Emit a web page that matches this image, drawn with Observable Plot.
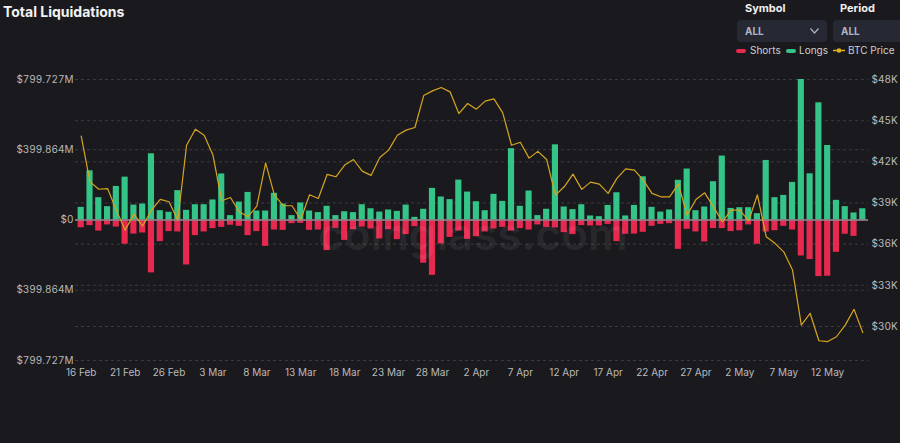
<!DOCTYPE html>
<html><head><meta charset="utf-8">
<script src="https://cdn.jsdelivr.net/npm/d3@7"></script>
<script src="https://cdn.jsdelivr.net/npm/@observablehq/plot@0.6"></script>
<style>
html,body{margin:0;padding:0}
body{background:#1a1a1e;width:900px;height:443px;overflow:hidden;font-family:Inter,"Open Sans",sans-serif;position:relative}
#chart{position:absolute;left:0;top:0}
.title{position:absolute;left:3px;top:3px;font-size:14px;font-weight:700;color:#f2f2f2}
.lbl{position:absolute;top:1px;font-size:11px;font-weight:700;color:#f0f0f0}
.box{position:absolute;top:20px;height:22px;background:#262934;border-radius:4px;color:#aeb3c4;font-size:10px;font-weight:700;line-height:22px;padding-left:8px;box-sizing:border-box}
.leg{position:absolute;top:44px;font-size:10px;color:#cfcfcf;line-height:12px}
.sw{position:absolute;top:49px;width:10px;height:3.5px;border-radius:2px}
.wm{position:absolute;left:318px;top:212px;font-size:44px;line-height:44px;font-weight:600;color:rgba(255,255,255,0.075);pointer-events:none;white-space:nowrap}
</style></head><body>
<div id="chart"></div>
<div class="title">Total Liquidations</div>
<div class="lbl" style="left:745px">Symbol</div>
<div class="box" style="left:737px;width:90px">ALL
  <svg style="position:absolute;right:8px;top:8px" width="9" height="6"><polyline points="0.5,0.5 4.5,5 8.5,0.5" fill="none" stroke="#aeb3c4" stroke-width="1.2"/></svg>
</div>
<div class="lbl" style="left:840px">Period</div>
<div class="box" style="left:833px;width:80px">ALL</div>
<div class="sw" style="left:736px;background:#e8294f"></div>
<div class="leg" style="left:750px">Shorts</div>
<div class="sw" style="left:786px;background:#34c487"></div>
<div class="leg" style="left:799px">Longs</div>
<svg style="position:absolute;left:833px;top:46px" width="12" height="9"><line x1="0" y1="4.5" x2="12" y2="4.5" stroke="#e0b020" stroke-width="1.5"/><circle cx="6" cy="4.5" r="2.3" fill="#e0b020"/></svg>
<div class="leg" style="left:848px">BTC Price</div>
<div class="wm">coinglass.com</div>
<script>
// Categories: one bar per day, 16 Feb 2022 – 16 May 2022
const dates = d3.utcDay.range(new Date(Date.UTC(2022,1,16)), new Date(Date.UTC(2022,4,17)));

// Longs liquidated ($M)
const longs = [72,280,127,76,191,244,85,91,377,53,
  44,167,55,87,87,114,262,25,102,157,
  51,51,152,91,25,97,51,42,78,25,
  47,42,87,64,45,57,49,85,15,61,
  180,131,116,227,159,104,53,146,106,406,
  78,165,25,61,428,74,59,87,23,19,
  83,155,23,83,246,72,45,57,226,290,
  53,74,218,364,66,70,70,36,339,127,
  140,214,799.727,263,667,424,112,76,40,64];

// Shorts liquidated ($M)
const shorts = [44,32,63,28,40,138,80,74,301,123,
  66,68,256,89,68,49,42,30,36,89,
  66,150,57,59,21,19,59,57,174,47,
  116,55,40,51,108,55,112,83,38,246,
  315,136,99,63,110,95,68,51,42,63,
  49,57,28,42,45,72,83,32,34,34,
  25,123,81,80,70,36,25,21,167,53,
  68,125,49,49,66,61,28,138,68,61,
  36,57,205,225,322,320,184,81,93,5];

// BTC price ($K)
const prices = [43.87,40.54,40.0,40.05,38.48,37.02,38.19,37.32,38.48,39.26,
  39.09,37.75,43.21,44.38,43.94,42.49,39.16,39.4,38.36,38.0,
  38.77,41.93,39.57,38.8,38.8,37.8,39.6,39.33,41.08,40.91,
  41.76,42.17,41.32,41.01,42.32,42.85,43.94,44.31,44.5,46.83,
  47.17,47.42,47.1,45.52,46.25,45.84,46.42,46.59,45.57,43.21,
  43.43,42.27,42.76,42.17,39.57,40.18,41.1,39.99,40.52,40.38,
  39.7,40.79,41.49,41.4,40.67,39.7,39.45,39.45,40.37,38.12,
  39.26,39.74,38.72,37.63,38.48,38.48,37.7,39.6,36.54,36.06,
  35.44,34.11,30.1,30.96,28.96,28.9,29.25,30.1,31.25,29.55];

// Tick labels
const leftTickValues = [799.727, 399.864, 0, -399.864, -799.727];
const leftTickLabels = ["$799.727M","$399.864M","$0","$399.864M","$799.727M"];
const rightTickValues = [48,45,42,39,36,33,30];
const rightTickLabels = ["$48K","$45K","$42K","$39K","$36K","$33K","$30K"];
const xTickDates = dates.filter((d,i)=>i%5===0);

const maxL = 799.727;
const priceScale = d3.scaleLinear([27.52, 48], [-maxL, maxL]);

const data = dates.map((d,i)=>({date:d, long:longs[i], short:-shorts[i], price:priceScale(prices[i])}));

const gridStyle = {stroke:"#3b3b42", strokeOpacity:1, strokeDasharray:"3,3"};
const chart = Plot.plot({
  width:900, height:443,
  marginLeft:75, marginRight:32, marginTop:79, marginBottom:83,
  style:{background:"transparent", color:"#b9b9b9", fontSize:"10px", fontFamily:"Inter, sans-serif"},
  x:{type:"band", domain:dates, padding:0.3},
  y:{domain:[-maxL, maxL]},
  marks:[
    Plot.gridY(leftTickValues, gridStyle),
    Plot.gridY(rightTickValues.map(v=>priceScale(v)), gridStyle),
    Plot.barY(data, {x:"date", y:"long", fill:"#34c487"}),
    Plot.barY(data, {x:"date", y:"short", fill:"#e8294f"}),
    Plot.ruleY([0], {stroke:"#8e8e94", strokeWidth:1.5}),
    Plot.line(data, {x:"date", y:"price", stroke:"#d6a520", strokeWidth:1.2}),
    Plot.axisY(leftTickValues, {anchor:"left", tickSize:0, tickPadding:2,
      tickFormat:(d)=>leftTickLabels[leftTickValues.indexOf(d)]}),
    Plot.axisY(rightTickValues.map(v=>priceScale(v)), {anchor:"right", tickSize:0, tickPadding:3,
      tickFormat:(d,i)=>rightTickLabels[i]}),
    Plot.axisX(xTickDates, {tickSize:0, tickPadding:8, tickFormat:d3.utcFormat("%-d %b")})
  ]
});
document.getElementById("chart").append(chart);
</script>
</body></html>
